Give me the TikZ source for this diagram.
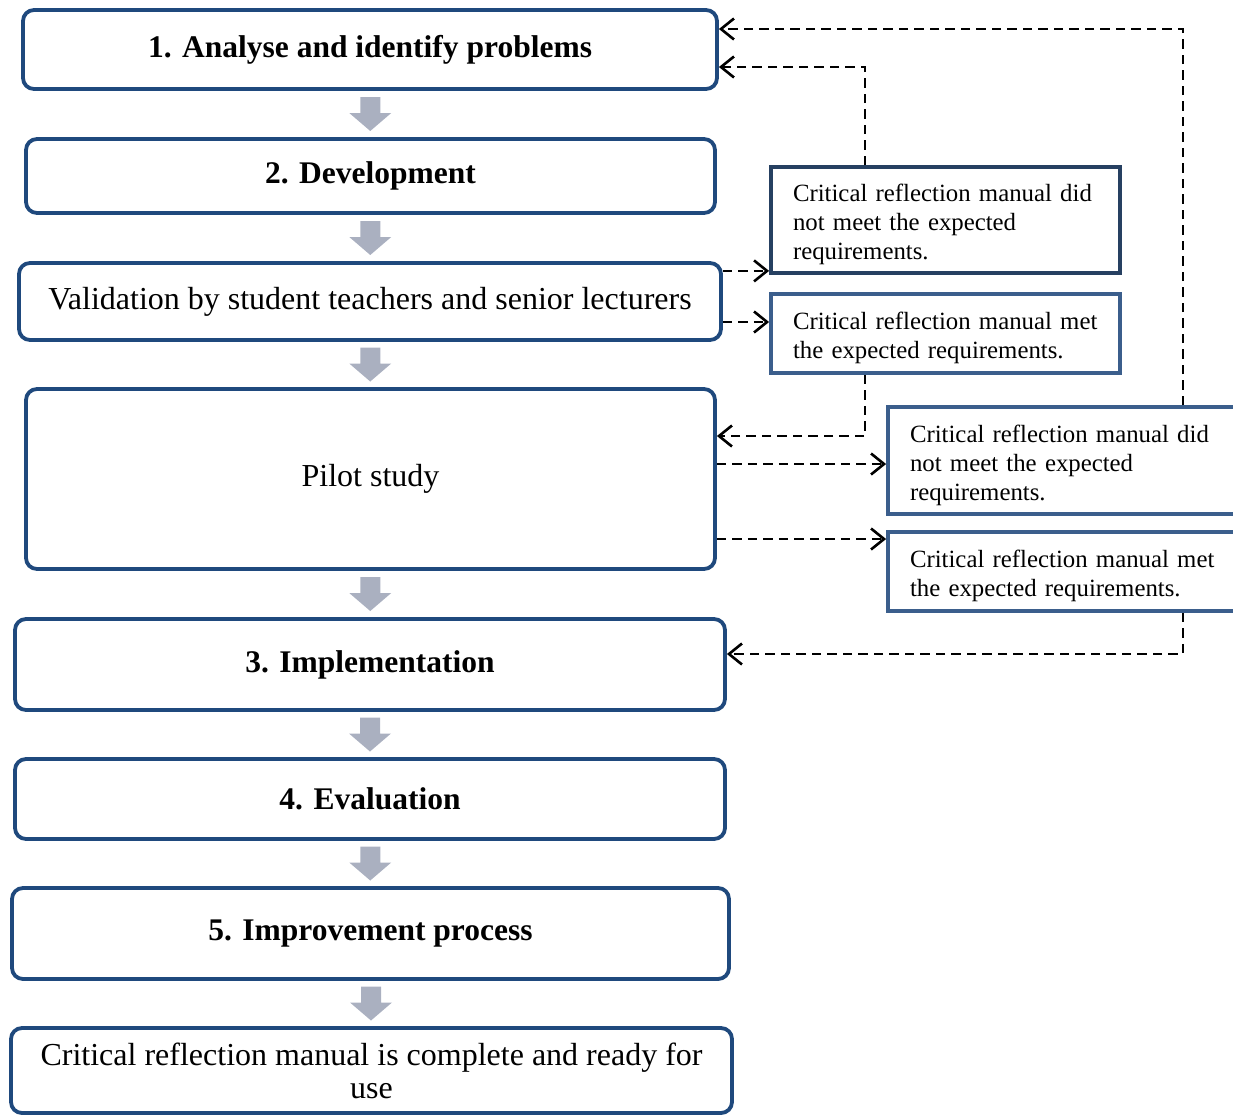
\documentclass[tikz,border=0pt]{standalone}
\usepackage{fontspec}
\setmainfont{Liberation Serif}
\usetikzlibrary{arrows.meta,calc}
\definecolor{boxblue}{RGB}{31,73,125}
\definecolor{darkblue}{RGB}{38,64,97}
\definecolor{midblue}{RGB}{59,94,140}
\definecolor{arrowgray}{RGB}{170,176,192}
\newcommand\grayarrow[2]{%
  \fill[arrowgray] ($(#1.south)!0.5!(#2.north)$) ++(-10,17) -- ++(20,0) -- ++(0,-16) -- ++(11,0)
    -- ++(-21,-18) -- ++(-21,18) -- ++(11,0) -- cycle;}
\newcommand\topstrut{\rule{0pt}{27pt}}
\begin{document}
\begin{tikzpicture}[x=1pt,y=1pt,
  stage/.style={draw=boxblue,line width=3.8pt,rounded corners=11pt,fill=white,inner sep=0pt,align=center},
  bigtxt/.style={font=\fontsize{31.5}{34}\selectfont\bfseries},
  regtxt/.style={font=\fontsize{32}{33}\selectfont},
  side/.style={line width=3.8pt,fill=white,inner xsep=22pt,inner ysep=0pt,align=left,font=\fontsize{24.8}{29}\selectfont},
  dl/.style={black,line width=2.6pt,dash pattern=on 9.5pt off 6pt,-{Straight Barb[length=13pt,width=21pt,line width=2.6pt]}}]
\useasboundingbox (0,0) rectangle (1233,-1116);
\clip (0,0) rectangle (1233,-1116);
% stages
\node[stage,bigtxt,minimum width=694,minimum height=79] (b1) at (370,-49.5) {1. Analyse and identify problems};
\node[stage,bigtxt,minimum width=689,minimum height=74] (b2) at (370.5,-176) {2. Development};
\node[stage,regtxt,minimum width=702,minimum height=77] (val) at (370,-301.5) {Validation by student teachers and senior lecturers};
\node[stage,regtxt,minimum width=689,minimum height=180] (pilot) at (370.5,-479) {Pilot study};
\node[stage,bigtxt,minimum width=710,minimum height=91] (b3) at (370,-664.5) {3. Implementation};
\node[stage,bigtxt,minimum width=710,minimum height=80] (b4) at (370,-799) {4. Evaluation};
\node[stage,bigtxt,minimum width=717,minimum height=91] (b5) at (370.5,-933.5) {5. Improvement process};
\node[stage,regtxt,minimum width=721,minimum height=85] (fin) at (371.5,-1070.5) {Critical reflection manual is complete and ready for\\use};
% side boxes
\node[side,draw=darkblue,text width=305,minimum height=106] (r1) at (945.5,-220)
  {\topstrut\mbox{Critical reflection manual did}\\\mbox{not meet the expected}\\\mbox{requirements.}};
\node[side,draw=midblue,text width=305,minimum height=79] (r2) at (945.5,-333.5)
  {\topstrut\mbox{Critical reflection manual met}\\\mbox{the expected requirements.}};
\node[side,draw=midblue,text width=318,minimum height=107] (r3) at (1069,-460.5)
  {\topstrut\mbox{Critical reflection manual did}\\\mbox{not meet the expected}\\\mbox{requirements.}};
\node[side,draw=midblue,text width=318,minimum height=79] (r4) at (1069,-571.5)
  {\topstrut\mbox{Critical reflection manual met}\\\mbox{the expected requirements.}};
% gray arrows
\grayarrow{b1}{b2}
\grayarrow{b2}{val}
\grayarrow{val}{pilot}
\grayarrow{pilot}{b3}
\grayarrow{b3}{b4}
\grayarrow{b4}{b5}
\grayarrow{b5}{fin}
% dashed connectors
\coordinate (a1) at ($(r1.south west)+(0,4)$);
\coordinate (a2) at ($(r2.west)+(0,11.5)$);
\coordinate (a6) at ($(pilot.east)+(0,15)$);
\coordinate (a7) at ($(pilot.east)+(0,-60)$);
\draw[dl] (val.east |- a1) -- (a1);
\draw[dl] (val.east |- a2) -- (a2);
\draw[dl] ([xshift=-80.5pt]r1.north) |- ([yshift=-17.5pt]b1.east);
\draw[dl] ([xshift=114pt]r3.north) |- ([yshift=20.5pt]b1.east);
\draw[dl] ([xshift=-80.5pt]r2.south) |- ([yshift=43pt]pilot.east);
\draw[dl] (a6) -- (r3.west |- a6);
\draw[dl] (a7) -- (r4.west |- a7);
\draw[dl] ([xshift=114pt]r4.south) |- ([yshift=10.5pt]b3.east);
\end{tikzpicture}
\end{document}
